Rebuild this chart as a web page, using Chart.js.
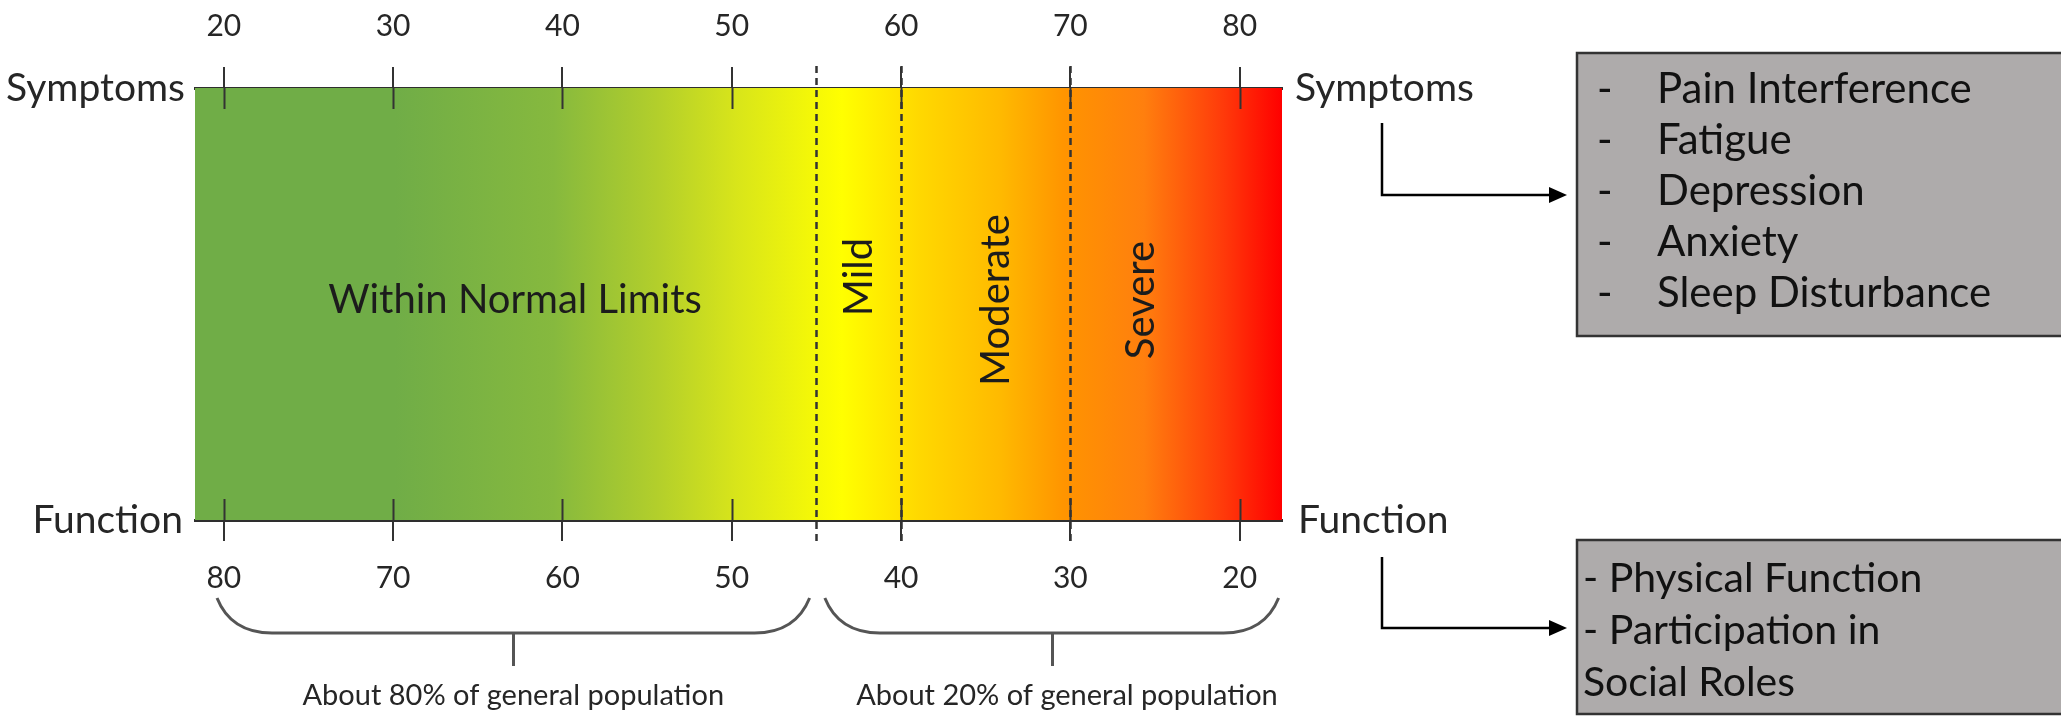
<!DOCTYPE html>
<html>
<head>
<meta charset="utf-8">
<script src="https://cdn.jsdelivr.net/npm/chart.js"></script>
<style>
  html, body { margin: 0; padding: 0; background: #fff; }
  canvas { display: block; }
</style>
</head>
<body>
<canvas id="myChart" width="2061" height="717"></canvas>

<script>
// T-scores: symptoms on top, function on the bottom (reversed)
const symptomTicks = [20, 30, 40, 50, 60, 70, 80];
const functionTicks = [80, 70, 60, 50, 40, 30, 20];
const scoreRange = [18.3, 82.5];          // symptom T-score at the bar ends
const cutPoints = [55, 60, 70];
const bandNames = ['Within Normal Limits', 'Mild', 'Moderate', 'Severe'];
const bandLabelAt = [37.2, 57.5, 65.6, 74.2];
const groupNames = ['About 80% of general population', 'About 20% of general population'];
const groupSpans = [[19.6, 54.6], [55.5, 82.3]];
const groupCentres = [37.1, 68.9];
const groupLabelAt = [37.1, 69.8];
const symptomDomains = ['Pain Interference', 'Fatigue', 'Depression', 'Anxiety', 'Sleep Disturbance'];
const functionDomains = ['- Physical Function', '- Participation in', 'Social Roles'];

const FONT = 'Lato, "Open Sans", sans-serif';
const INK = '#262626';

const stops = [
  [0, '#70ad47'], [0.184, '#70ad47'], [0.33, '#86b93e'], [0.426, '#b3cf2b'],
  [0.498, '#d8e51a'], [0.595, '#ffff00'], [0.667, '#ffd800'], [0.74, '#ffba00'],
  [0.80, '#ff9400'], [0.873, '#ff7f0e'], [0.946, '#ff3a0a'], [1, '#ff0000']
];

function barGradient(ctx) {
  const area = ctx.chart.chartArea;
  if (!area) return null;
  const g = ctx.chart.ctx.createLinearGradient(area.left, 0, area.right, 0);
  stops.forEach(s => g.addColorStop(s[0], s[1]));
  return g;
}

const overlay = {
  id: 'overlay',
  afterDraw(chart) {
    const ctx = chart.ctx;
    const a = chart.chartArea;
    const xs = chart.scales.x, xf = chart.scales.x2;
    ctx.save();

    // ticks crossing into the bar
    ctx.strokeStyle = '#333';
    ctx.lineWidth = 2;
    ctx.beginPath();
    symptomTicks.forEach(v => {
      const px = Math.round(xs.getPixelForValue(v)) + 0.5;
      ctx.moveTo(px, a.top); ctx.lineTo(px, a.top + 21);
    });
    functionTicks.forEach(v => {
      const px = Math.round(xf.getPixelForValue(v)) + 0.5;
      ctx.moveTo(px, a.bottom - 21); ctx.lineTo(px, a.bottom);
    });
    ctx.stroke();

    // cut point lines
    ctx.setLineDash([7, 5]);
    ctx.lineWidth = 2.5;
    ctx.beginPath();
    cutPoints.forEach(v => {
      const px = Math.round(xs.getPixelForValue(v)) + 0.5;
      ctx.moveTo(px, a.top - 22); ctx.lineTo(px, a.bottom + 22);
    });
    ctx.stroke();
    ctx.setLineDash([]);

    // band labels
    ctx.fillStyle = '#1c1c1c';
    ctx.font = '40px ' + FONT;
    ctx.textAlign = 'center';
    ctx.textBaseline = 'middle';
    const midY = a.top + 212;
    bandNames.forEach((name, i) => {
      const px = xs.getPixelForValue(bandLabelAt[i]);
      if (i === 0) { ctx.fillText(name, px, midY); return; }
      ctx.save();
      ctx.translate(px, i === 1 ? a.top + 189 : midY);
      ctx.rotate(-Math.PI / 2);
      ctx.fillText(name, 0, 0);
      ctx.restore();
    });

    // side labels
    ctx.fillStyle = INK;
    ctx.font = '39px ' + FONT;
    ctx.textAlign = 'right';
    ctx.fillText('Symptoms', a.left - 10, a.top);
    ctx.fillText('Function', a.left - 12, a.bottom);
    ctx.textAlign = 'left';
    ctx.fillText('Symptoms', a.right + 13, a.top);
    ctx.fillText('Function', a.right + 16, a.bottom);

    // population braces
    const top = a.bottom + 78, flat = a.bottom + 113, tip = a.bottom + 146;
    ctx.strokeStyle = '#555';
    ctx.lineWidth = 3;
    groupSpans.forEach((span, i) => {
      const x0 = xs.getPixelForValue(span[0]);
      const x1 = xs.getPixelForValue(span[1]);
      const xc = Math.round(xs.getPixelForValue(groupCentres[i])) + 0.5;
      ctx.beginPath();
      ctx.moveTo(x0, top);
      ctx.quadraticCurveTo(x0 + 14, flat, x0 + 55, flat);
      ctx.lineTo(x1 - 55, flat);
      ctx.quadraticCurveTo(x1 - 14, flat, x1, top);
      ctx.moveTo(xc, flat);
      ctx.lineTo(xc, tip);
      ctx.stroke();
      ctx.fillStyle = INK;
      ctx.font = '29px ' + FONT;
      ctx.textAlign = 'center';
      ctx.textBaseline = 'alphabetic';
      ctx.fillText(groupNames[i], xs.getPixelForValue(groupLabelAt[i]), a.bottom + 185);
    });

    // arrows to the domain boxes
    const ax = a.right + 100, tipX = a.right + 285;
    [[a.top + 35, a.top + 107], [a.bottom + 37, a.bottom + 108]].forEach(seg => {
      ctx.strokeStyle = '#000';
      ctx.lineWidth = 2.5;
      ctx.beginPath();
      ctx.moveTo(ax, seg[0]);
      ctx.lineTo(ax, seg[1]);
      ctx.lineTo(tipX - 16, seg[1]);
      ctx.stroke();
      ctx.fillStyle = '#000';
      ctx.beginPath();
      ctx.moveTo(tipX, seg[1]);
      ctx.lineTo(tipX - 18, seg[1] - 8);
      ctx.lineTo(tipX - 18, seg[1] + 8);
      ctx.closePath();
      ctx.fill();
    });

    // domain boxes
    const bx = a.right + 295;
    ctx.fillStyle = '#aeabab';
    ctx.strokeStyle = '#333';
    ctx.lineWidth = 2.5;
    ctx.fillRect(bx, 53, 600, 283);
    ctx.strokeRect(bx, 53, 600, 283);
    ctx.fillStyle = '#aeabab';
    ctx.fillRect(bx, 540, 600, 174);
    ctx.strokeRect(bx, 540, 600, 174);

    ctx.fillStyle = '#111';
    ctx.font = '42px ' + FONT;
    ctx.textAlign = 'left';
    ctx.textBaseline = 'alphabetic';
    symptomDomains.forEach((d, i) => {
      const y = 103 + i * 51;
      ctx.fillText('-', bx + 20, y);
      ctx.fillText(d, bx + 80, y);
    });
    ctx.font = '41px ' + FONT;
    functionDomains.forEach((d, i) => {
      ctx.fillText(d, bx + 6, 592 + i * 52);
    });

    ctx.restore();
  }
};

const config = {
  type: 'bar',
  data: {
    labels: ['T-score'],
    datasets: [{
      data: [scoreRange],
      backgroundColor: barGradient,
      borderWidth: 0,
      barPercentage: 1,
      categoryPercentage: 1
    }]
  },
  options: {
    indexAxis: 'y',
    responsive: false,
    devicePixelRatio: 1,
    animation: false,
    layout: { padding: { left: 195, right: 779, top: 0, bottom: 97 } },
    plugins: { legend: { display: false }, tooltip: { enabled: false } },
    scales: {
      x: {
        type: 'linear',
        position: 'top',
        bounds: 'data',
        min: scoreRange[0],
        max: scoreRange[1],
        z: 1,
        afterBuildTicks: s => { s.ticks = symptomTicks.map(v => ({ value: v })); },
        afterFit: s => { s.height = 88; },
        ticks: { font: { family: FONT, size: 30 }, color: INK, padding: 23, maxRotation: 0 },
        grid: { drawOnChartArea: false, tickLength: 21, color: '#333', lineWidth: 2 },
        border: { display: true, color: '#2e2e2e', width: 3 }
      },
      x2: {
        type: 'linear',
        position: 'bottom',
        reverse: true,
        bounds: 'data',
        min: 100 - scoreRange[1],
        max: 100 - scoreRange[0],
        z: 1,
        afterBuildTicks: s => { s.ticks = functionTicks.map(v => ({ value: v })); },
        afterFit: s => { s.height = 100; },
        ticks: { font: { family: FONT, size: 30 }, color: INK, padding: 19, maxRotation: 0 },
        grid: { drawOnChartArea: false, tickLength: 21, color: '#333', lineWidth: 2 },
        border: { display: true, color: '#2e2e2e', width: 3 }
      },
      y: { display: false }
    }
  },
  plugins: [overlay]
};

const myChart = new Chart(document.getElementById('myChart'), config);
</script>
</body>
</html>
